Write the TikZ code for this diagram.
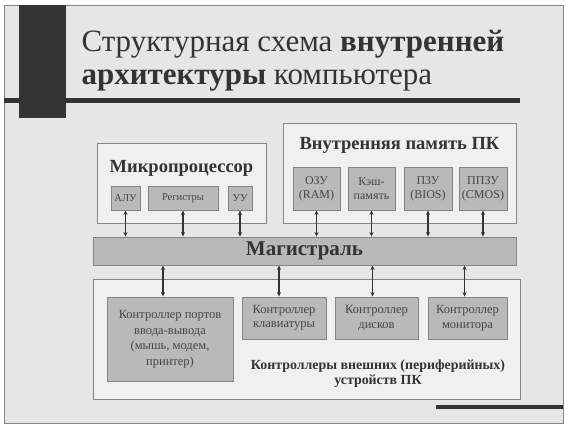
\documentclass[tikz,border=0pt]{standalone}
\usepackage{fontspec}
\setmainfont{Liberation Serif}
\usetikzlibrary{arrows.meta}

\definecolor{pagegray}{HTML}{E6E6E6}
\definecolor{framegray}{HTML}{858585}
\definecolor{boxlight}{HTML}{F0F0F0}
\definecolor{unitgray}{HTML}{B9B9B9}
\definecolor{darkbar}{HTML}{333333}
\definecolor{txtgray}{HTML}{454545}

\begin{document}
\begin{tikzpicture}[x=1pt,y=-1pt,
    >={Stealth[length=4.5pt,width=4pt]},
    outerbox/.style={draw=framegray, fill=boxlight, line width=0.9pt, inner sep=0pt},
    unit/.style={draw=framegray, fill=unitgray, line width=0.9pt, inner sep=0pt,
        align=center, text=txtgray, font=\fontsize{12}{14}\selectfont},
    headtext/.style={text=darkbar, font=\bfseries\fontsize{18.5}{20}\selectfont, align=center},
    link/.style={<->, line width=1.3pt, draw=darkbar}]

    \useasboundingbox (0,0) rectangle (574,431);
    \fill[white] (0,0) rectangle (574,431);
    \draw[fill=pagegray, draw=framegray, line width=1pt] (4,5) rectangle (563,423);

    % decor bars
    \fill[darkbar] (19,5) rectangle (66,118);
    \fill[darkbar] (4,98) rectangle (520,103);
    \fill[darkbar] (436,405) rectangle (563,409);

    % title
    \node[anchor=base west, text=darkbar, font=\fontsize{31}{36}\selectfont] (title1) at (78,52)
        {Структурная схема \textbf{внутренней}};
    \node[anchor=base west, text=darkbar, font=\fontsize{31}{36}\selectfont] (title2) at (78,84)
        {\textbf{архитектуры} компьютера};

    % processor
    \node[outerbox, minimum width=169, minimum height=80] (cpu) at (181.5,183) {};
    \node[headtext] (cpuname) at (181.5,168) {Микропроцессор};
    \node[unit, font=\fontsize{10.5}{12}\selectfont, minimum width=29, minimum height=24] (alu) at (125.5,198) {АЛУ};
    \node[unit, font=\fontsize{10.5}{12}\selectfont, minimum width=70, minimum height=24] (reg) at (183,198) {Регистры};
    \node[unit, font=\fontsize{10.5}{12}\selectfont, minimum width=24, minimum height=24] (cu) at (240,198) {УУ};

    % memory
    \node[outerbox, minimum width=233, minimum height=100] (mem) at (399.5,173) {};
    \node[headtext] (memname) at (399.5,145) {Внутренняя память ПК};
    \node[unit, minimum width=47, minimum height=43] (ram) at (316.5,188.5) {ОЗУ\\(RAM)};
    \node[unit, minimum width=47, minimum height=43] (cache) at (371.5,188.5) {Кэш-\\память};
    \node[unit, minimum width=48, minimum height=43] (rom) at (428,188.5) {ПЗУ\\(BIOS)};
    \node[unit, minimum width=48, minimum height=43] (cmos) at (483,188.5) {ППЗУ\\(CMOS)};

    % bus
    \node[draw=framegray, fill=unitgray, line width=0.9pt, minimum width=423, minimum height=28,
        headtext, font=\bfseries\fontsize{21}{22}\selectfont] (bus) at (304.5,251) {Магистраль};

    % controllers
    \node[outerbox, minimum width=427, minimum height=120] (ctl) at (306.5,339) {};
    \node[unit, font=\fontsize{12.5}{15.5}\selectfont, minimum width=126, minimum height=84] (port) at (170,339)
        {Контроллер портов\\ввода-вывода\\(мышь, модем,\\принтер)};
    \node[unit, font=\fontsize{12.5}{14.5}\selectfont, minimum width=84, minimum height=42] (kbd) at (284,318) {Контроллер\\клавиатуры};
    \node[unit, font=\fontsize{12.5}{14.5}\selectfont, minimum width=83, minimum height=42] (disk) at (376.5,318) {Контроллер\\дисков};
    \node[unit, font=\fontsize{12.5}{14.5}\selectfont, minimum width=79, minimum height=42] (mon) at (467.5,318) {Контроллер\\монитора};
    \node[headtext, font=\bfseries\fontsize{13.9}{15}\selectfont] (ctlname) at (378,374)
        {Контроллеры внешних (периферийных)\\устройств ПК};

    % links
    \foreach \u in {alu,reg,cu,ram,cache,rom,cmos}
        \draw[link] (\u.south) -- (\u.south |- bus.north);
    \draw[link] ([xshift=-7pt]port.north) -- ([xshift=-7pt]port.north |- bus.south);
    \draw[link] ([xshift=-5pt]kbd.north) -- ([xshift=-5pt]kbd.north |- bus.south);
    \draw[link] ([xshift=-4pt]disk.north) -- ([xshift=-4pt]disk.north |- bus.south);
    \draw[link] ([xshift=-3pt]mon.north) -- ([xshift=-3pt]mon.north |- bus.south);
\end{tikzpicture}
\end{document}
